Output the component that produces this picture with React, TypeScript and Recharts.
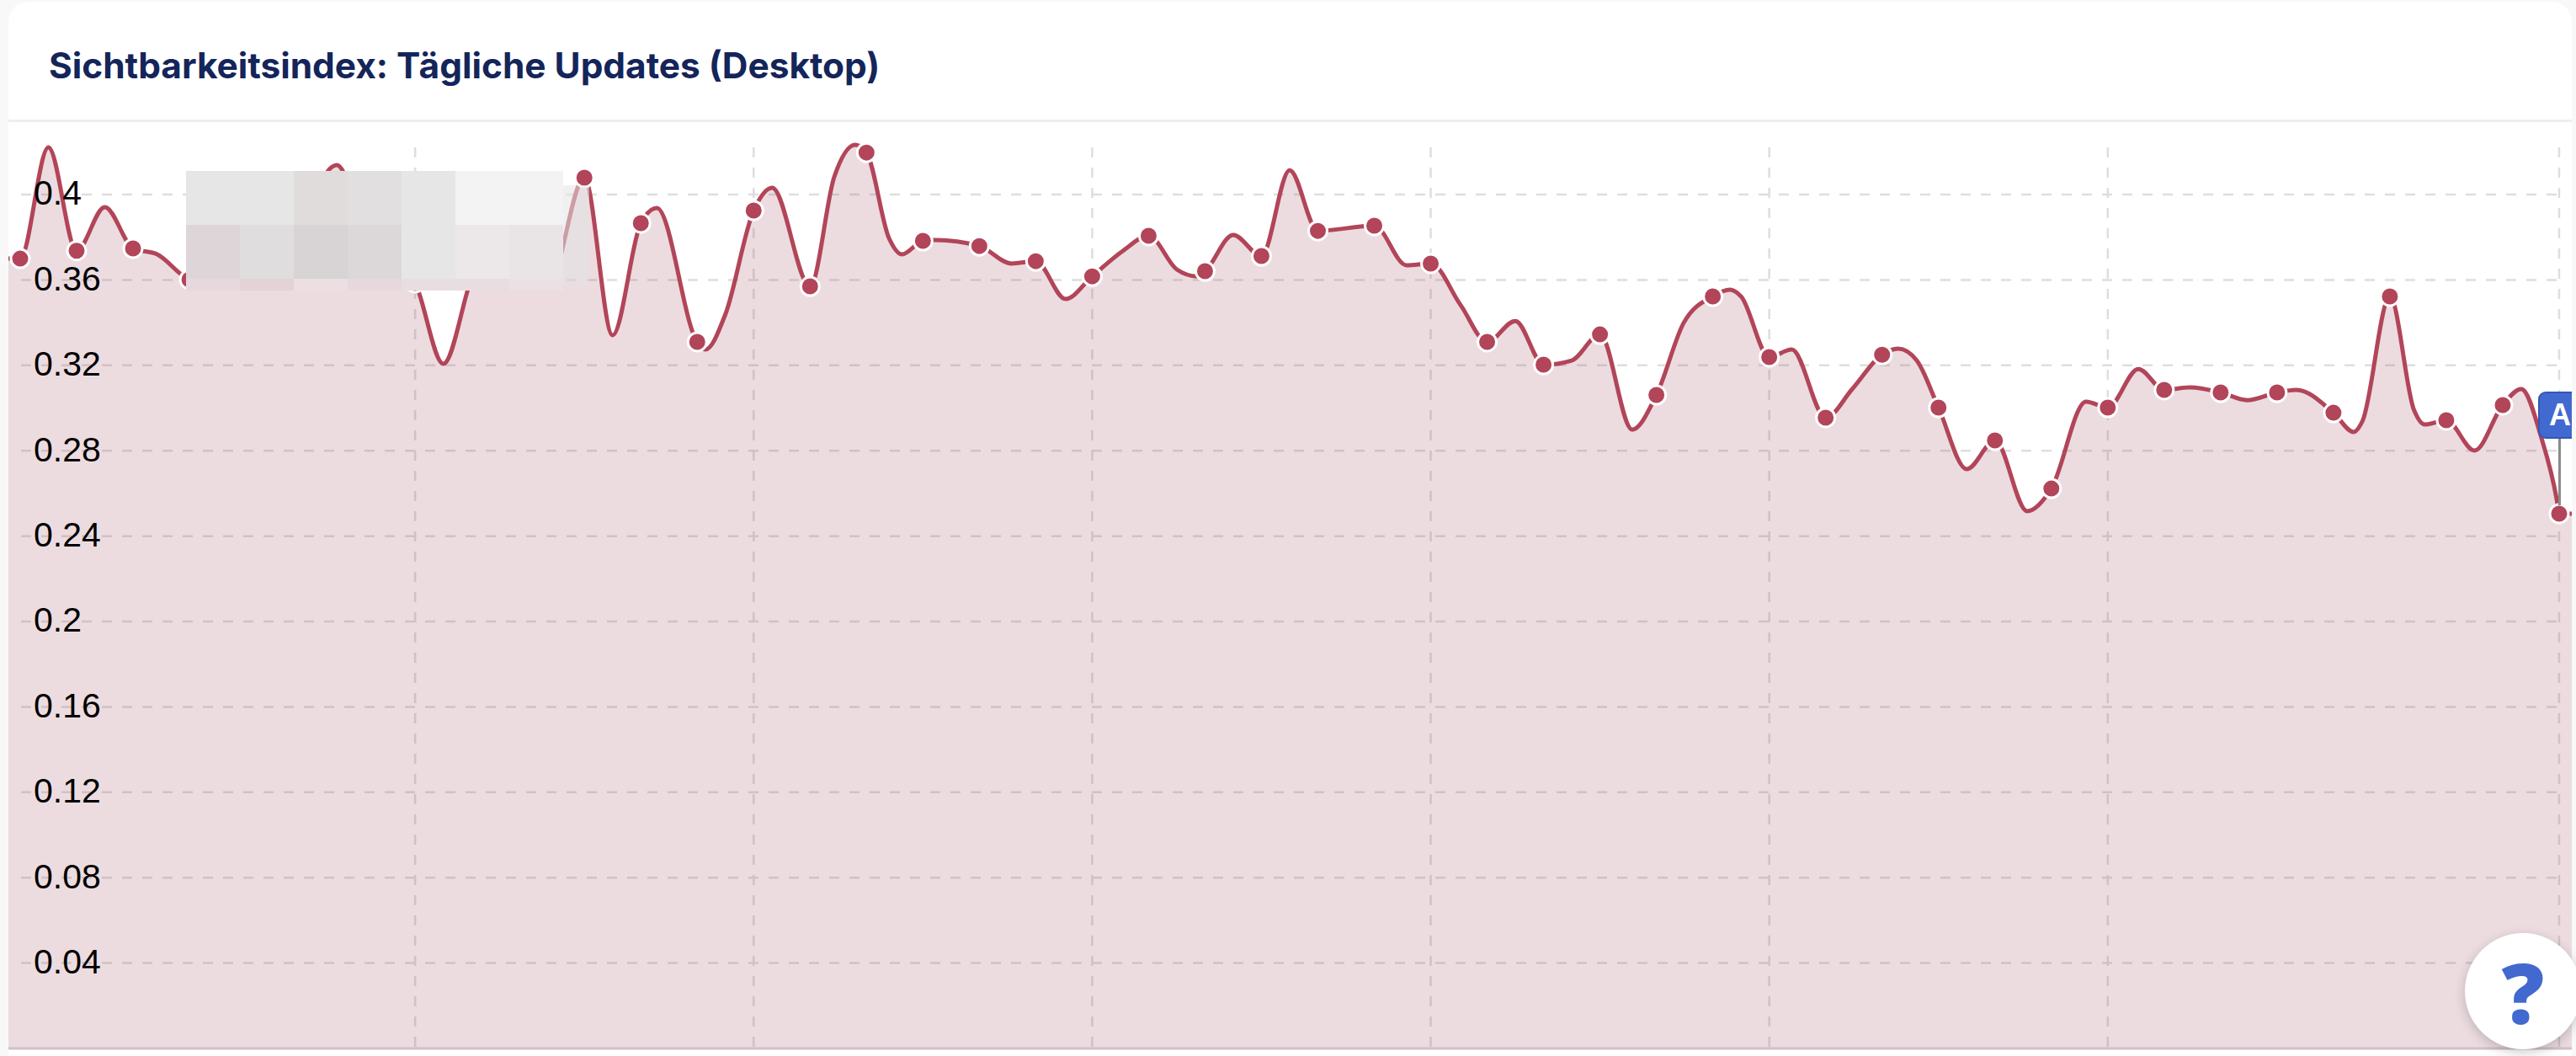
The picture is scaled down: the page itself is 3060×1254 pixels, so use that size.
import React from "react";
import { Area, AreaChart, CartesianGrid, XAxis, YAxis } from "recharts";

// one marked value per week, day = index * 7
const weekValues = [
  0.37, 0.3737, 0.3748, 0.3602, 0.3629, 0.3925, 0.3925, 0.3586, 0.3609, 0.3728,
  0.4079, 0.3866, 0.331, 0.3925, 0.357, 0.4197, 0.3783, 0.3759, 0.3688, 0.3617,
  0.3807, 0.3641, 0.3712, 0.383, 0.3854, 0.3677, 0.331, 0.3203, 0.3345, 0.3061,
  0.3523, 0.3239, 0.2955, 0.325, 0.3002, 0.2848, 0.2623, 0.3002, 0.3085, 0.3073,
  0.3073, 0.2978, 0.3523, 0.2943, 0.3014, 0.2505,
];

// readings between the marked weeks, drawn by the line only
const betweenDays = [
  -1.46, 3.5, 10.5, 17, 24.5, 31.5, 39.3, 45.5, 52.5, 59.5, 65.5, 73.5, 79, 85, 87.5,
  93.3, 101, 103.6, 107.8, 109.4, 113.5, 123, 129.7, 136.8, 143.5, 146, 150.5, 157.5,
  172, 178.7, 185.5, 192.5, 200, 206.4, 212.1, 213.5, 219.8, 227.3, 233, 235.3, 241.5,
  249, 256.3, 262.8, 269.2, 276.3, 282.4, 289.5, 290.6, 297, 298.3, 304.5, 310.3,
  312.8, 314.7, 316.57,
];
const betweenValues = [
  0.37, 0.4221, 0.3941, 0.372, 0.358, 0.3807, 0.4138, 0.3708, 0.3207, 0.3886, 0.357,
  0.3341, 0.3937, 0.3274, 0.344, 0.4032, 0.4083, 0.4233, 0.3795, 0.372, 0.3787, 0.3677,
  0.3511, 0.3736, 0.3649, 0.3617, 0.3811, 0.4114, 0.3669, 0.3483, 0.3408, 0.3223,
  0.2899, 0.34, 0.3554, 0.3523, 0.3274, 0.3089, 0.3278, 0.3223, 0.2714, 0.2517, 0.303,
  0.3183, 0.3097, 0.3037, 0.3085, 0.2888, 0.2939, 0.299, 0.2923, 0.2801, 0.3089, 0.286,
  0.2572, 0.2505,
];

const yTicks = [0.04, 0.08, 0.12, 0.16, 0.2, 0.24, 0.28, 0.32, 0.36, 0.4];
const xTicks = [49, 91, 133, 175, 217, 259, 315];

// colours of the blurred patch, three rows of seven cells
const blurRows = [
  ["#e6e6e6", "#e6e6e6", "#e0dcdc", "#e2dfe0", "#e6e6e6", "#f3f3f3", "#f3f3f3"],
  ["#ddd5d7", "#dfddde", "#d8d3d4", "#dcd7d9", "#e6e6e6", "#ece8e9", "#e9e5e6"],
  ["#e6d8dc", "#e4d3d6", "#ecdfe2", "#e6d8dc", "#e8dde0", "#e8dde0", "#ebe0e3"],
];
const blurRowHeights = [64, 64, 14];

const chartData = [
  ...weekValues.map((value, i) => ({ day: i * 7, value, marked: true })),
  ...betweenDays.map((day, i) => ({ day, value: betweenValues[i], marked: false })),
].sort((a, b) => a.day - b.day);

const renderDot = (props: any) => {
  if (!props.payload.marked) return <g key={props.key ?? props.index} />;
  return (
    <circle
      key={props.key ?? props.index}
      cx={props.cx}
      cy={props.cy}
      r={11}
      fill="#b24559"
      stroke="#ffffff"
      strokeWidth={3}
    />
  );
};

const renderYTick = (props: any) => (
  <text key={props.index} x={40} y={props.y} dy="0.3em" fontSize={41} fontFamily="Liberation Sans" fill="#000">
    {props.payload.value}
  </text>
);

const verticalLines = ({ xAxis }: any) => {
  const scale = xAxis.scale.map ? (d: number) => xAxis.scale.map(d) : xAxis.scale;
  return xTicks.map((d) => scale(d));
};

const App = () => {
  return (
    <div style={{ position: "fixed", left: 0, top: 0, width: 3060, height: 1254, background: "#f8f8f8", overflow: "hidden" }}>
      <div style={{ position: "absolute", left: 10, top: 2, width: 3045, height: 1252, background: "#fff", borderRadius: "24px 24px 0 0", overflow: "hidden" }}>
        <div style={{ position: "absolute", left: 0, top: 140, width: 3045, height: 3, background: "#eeeeee" }} />
      </div>
      <div style={{ position: "absolute", left: 58, top: 50, fontFamily: "Inter", fontWeight: 700, fontSize: 42.4, lineHeight: "56px", color: "#14255a", whiteSpace: "nowrap" }}>
        Sichtbarkeitsindex: Tägliche Updates (Desktop)
      </div>

      <div style={{ position: "absolute", left: 0, top: 0 }}>
        <AreaChart width={3060} height={1254} data={chartData} margin={{ top: 172, right: 5, bottom: 8, left: 10 }}>
          <CartesianGrid horizontal vertical={false} syncWithTicks x={25} width={3014} stroke="#dedede" strokeWidth={2.5} strokeDasharray="12 12" />
          <CartesianGrid horizontal={false} vertical y={175} height={1070} verticalCoordinatesGenerator={verticalLines} stroke="#dedede" strokeWidth={2.5} strokeDasharray="12 12" />
          <XAxis
            dataKey="day"
            type="number"
            domain={[-1.46, 316.57]}
            ticks={xTicks}
            interval={0}
            height={1}
            tick={false}
            tickLine={false}
            axisLine={{ stroke: "#d0c0c5", strokeWidth: 3 }}
          />
          <YAxis
            domain={[0, 0.4233]}
            ticks={yTicks}
            interval={0}
            mirror
            width={1}
            axisLine={false}
            tickLine={false}
            tick={renderYTick}
          />
          <Area
            type="monotone"
            dataKey="value"
            stroke="#b24559"
            strokeWidth={5}
            fill="#a05064"
            fillOpacity={0.2}
            dot={renderDot}
            activeDot={false}
            isAnimationActive={false}
          />
        </AreaChart>
      </div>

      {/* blurred patch */}
      <div style={{ position: "absolute", left: 669, top: 220, width: 31, height: 120, background: "rgba(228,228,228,0.55)", borderRadius: "0 0 10px 0" }} />
      <div style={{ position: "absolute", left: 221, top: 203 }}>
        {blurRows.map((row, r) => (
          <div key={r} style={{ display: "flex" }}>
            {row.map((c, i) => (
              <div key={i} style={{ width: 64, height: blurRowHeights[r], background: c }} />
            ))}
          </div>
        ))}
      </div>

      {/* annotation flag */}
      <div style={{ position: "absolute", left: 3039, top: 520, width: 3, height: 80, background: "#8a8a8a" }} />
      <div style={{ position: "absolute", left: 3015, top: 465, width: 40, height: 56, overflow: "hidden" }}>
        <div style={{ width: 80, height: 56, boxSizing: "border-box", background: "#4169cf", border: "2px solid #3457b5", borderRadius: 9, fontFamily: "Liberation Sans", fontWeight: 700, fontSize: 36, lineHeight: "52px", color: "#fff" }}>
          <span style={{ display: "block", width: 48, textAlign: "center" }}>A</span>
        </div>
      </div>

      {/* help button */}
      <div style={{ position: "absolute", left: 2928, top: 1108, width: 138, height: 138, borderRadius: "50%", background: "#fff", boxShadow: "0 4px 14px rgba(0,0,0,0.2)", textAlign: "center", fontFamily: "Open Sans", fontWeight: 800, fontSize: 100, lineHeight: "138px", color: "#4169cf" }}>
        ?
      </div>
    </div>
  );
};

export default App;
